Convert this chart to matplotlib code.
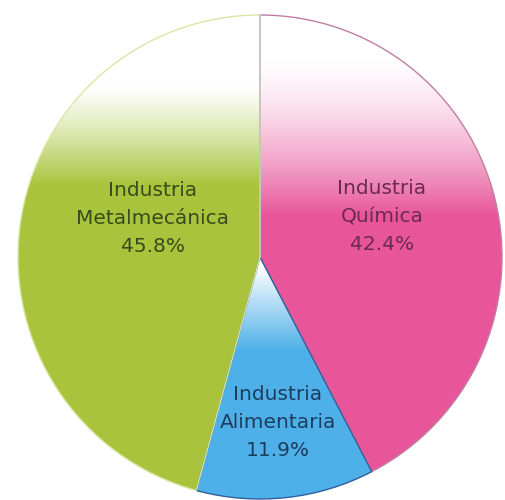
import matplotlib
matplotlib.use("Agg")
import matplotlib.pyplot as plt
import numpy as np

# Participación por sector industrial
sectores = ["Industria\nQuímica", "Industria\nAlimentaria", "Industria\nMetalmecánica"]
porcentajes = [42.4, 11.9, 45.8]

colores = ["#e8569a", "#4eb0e8", "#a9c43c"]
colores_texto = ["#6b2a50", "#1d3d5e", "#3a4a1c"]
bordes = ["#c07ea2", "#2f5f9e", "#dbe6a6"]
# filas (px desde arriba) donde empieza y termina el degradado blanco -> color,
# y exponente de la curva
degradado = [(55, 215, 1.5), (266, 350, 1.0), (85, 185, 1.2)]
pos_texto = [(382, 217), (278, 422), (153, 218)]

W, H = 506, 500
CENTRO = (260, H - 257)
RADIO = 242

fig = plt.figure(figsize=(W / 100, H / 100), dpi=100)
ax = fig.add_axes([0, 0, 1, 1])

wedges, _ = ax.pie(porcentajes, startangle=90, counterclock=False,
                   center=CENTRO, radius=RADIO, frame=True,
                   wedgeprops=dict(facecolor="none", linewidth=1.0))
ax.set_xlim(0, W)
ax.set_ylim(0, H)
ax.set_aspect("equal")
ax.axis("off")

filas = np.arange(H)
for w, col, borde, (y0, y1, g) in zip(wedges, colores, bordes, degradado):
    w.set_edgecolor(borde)
    w.set_zorder(3)
    rgb = np.array(matplotlib.colors.to_rgb(col))
    t = np.clip((filas - y0) / (y1 - y0), 0, 1) ** g
    img = (1 - t)[:, None] + t[:, None] * rgb[None, :]
    img = np.repeat(img[:, None, :], 2, axis=1)
    # fila 0 = parte superior de la figura
    im = ax.imshow(img, extent=[0, W, 0, H], origin="upper",
                   aspect="auto", zorder=1, interpolation="bilinear")
    im.set_clip_path(w)

# línea divisoria superior
ax.plot([CENTRO[0], CENTRO[0]], [CENTRO[1], CENTRO[1] + RADIO],
        color="#c4c4c4", linewidth=1.2, zorder=4)

for texto, pct, (x, y), c in zip(sectores, porcentajes, pos_texto, colores_texto):
    ax.text(x, H - y, f"{texto}\n{pct}%", ha="center", va="center",
            fontsize=14.5, color=c, linespacing=1.6,
            family="DejaVu Sans", zorder=5)

fig.savefig("out.png", dpi=100, facecolor="white")
